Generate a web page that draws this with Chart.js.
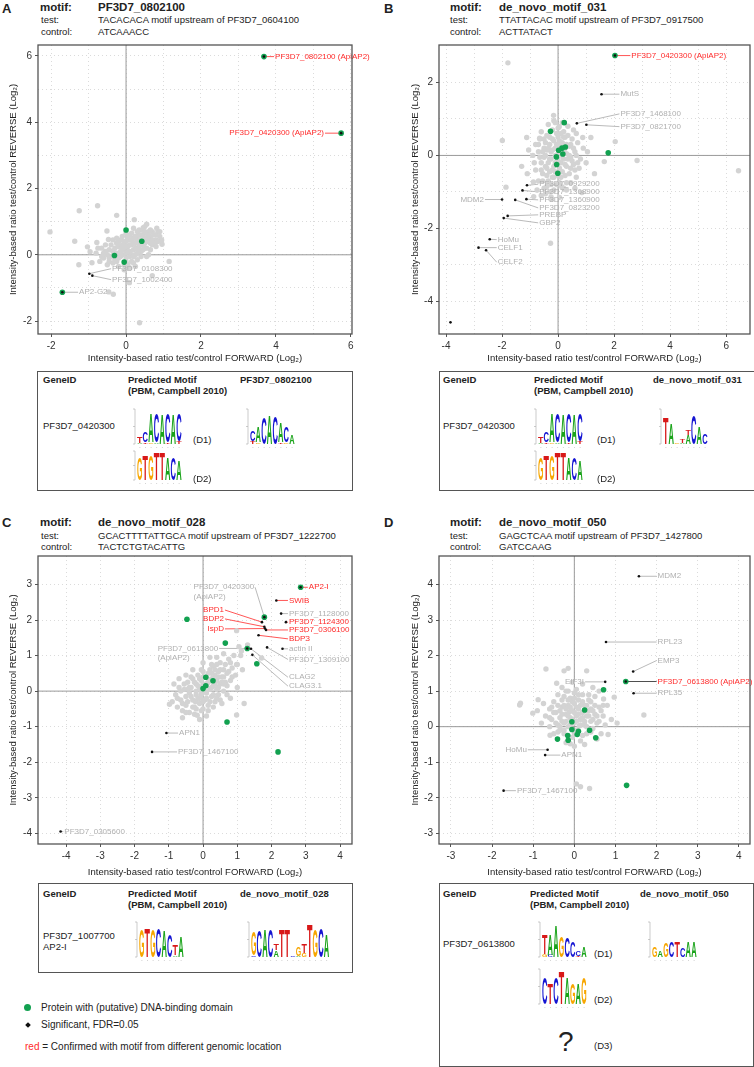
<!DOCTYPE html>
<html>
<head>
<meta charset="utf-8">
<script src="https://cdn.jsdelivr.net/npm/chart.js@4.4.1/dist/chart.umd.min.js"></script>
<style>
body{margin:0;width:754px;height:1067px;position:relative;background:#fff;overflow:hidden;
     font-family:"Liberation Sans",Arial,sans-serif;color:#222}
.t{position:absolute;white-space:nowrap;line-height:1}
.b{font-weight:bold}
.pl{font-size:13px;font-weight:bold}
.mh{font-size:11.5px;font-weight:bold}
.s{font-size:9.5px}
canvas{position:absolute}
.box{position:absolute;border:1.3px solid #555;box-sizing:border-box}
</style>
</head>
<body>

<!-- panel headers -->
<div class="t pl" style="left:2px;top:2px">A</div>
<div class="t mh" style="left:40px;top:2px">motif:</div>
<div class="t mh" style="left:98px;top:2px">PF3D7_0802100</div>
<div class="t s" style="left:41px;top:15.3px">test:</div>
<div class="t s" style="left:98px;top:15.3px">TACACACA motif upstream of PF3D7_0604100</div>
<div class="t s" style="left:41px;top:27px">control:</div>
<div class="t s" style="left:98px;top:27px">ATCAAACC</div>

<div class="t pl" style="left:384px;top:2px">B</div>
<div class="t mh" style="left:450px;top:2px">motif:</div>
<div class="t mh" style="left:499px;top:2px">de_novo_motif_031</div>
<div class="t s" style="left:450px;top:15.3px">test:</div>
<div class="t s" style="left:499px;top:15.3px">TTATTACAC motif upstream of PF3D7_0917500</div>
<div class="t s" style="left:450px;top:27px">control:</div>
<div class="t s" style="left:499px;top:27px">ACTTATACT</div>

<div class="t pl" style="left:2px;top:515.6px">C</div>
<div class="t mh" style="left:40px;top:517.4px">motif:</div>
<div class="t mh" style="left:98px;top:517.4px">de_novo_motif_028</div>
<div class="t s" style="left:41px;top:530.8px">test:</div>
<div class="t s" style="left:98px;top:530.8px">GCACTTTTATTGCA motif upstream of PF3D7_1222700</div>
<div class="t s" style="left:41px;top:541.6px">control:</div>
<div class="t s" style="left:98px;top:541.6px">TACTCTGTACATTG</div>

<div class="t pl" style="left:384px;top:515.6px">D</div>
<div class="t mh" style="left:450px;top:517.4px">motif:</div>
<div class="t mh" style="left:499px;top:517.4px">de_novo_motif_050</div>
<div class="t s" style="left:450px;top:530.8px">test:</div>
<div class="t s" style="left:499px;top:530.8px">GAGCTCAA motif upstream of PF3D7_1427800</div>
<div class="t s" style="left:450px;top:541.6px">control:</div>
<div class="t s" style="left:499px;top:541.6px">GATCCAAG</div>

<canvas id="chartA"></canvas>
<canvas id="chartB"></canvas>
<canvas id="chartC"></canvas>
<canvas id="chartD"></canvas>

<!-- motif tables -->
<div class="box" style="left:37px;top:370.5px;width:316px;height:120px"></div>
<div class="t s b" style="left:43px;top:375.3px">GeneID</div>
<div class="t s b" style="left:128px;top:375.3px">Predicted Motif</div>
<div class="t s b" style="left:128px;top:386.3px">(PBM, Campbell 2010)</div>
<div class="t s b" style="left:240px;top:375.3px">PF3D7_0802100</div>
<div class="t s" style="left:43px;top:421.3px">PF3D7_0420300</div>
<canvas id="logoA1" style="left:131px;top:406px" width="56" height="44"></canvas>
<div class="t s" style="left:193px;top:434.8px">(D1)</div>
<canvas id="logoA3" style="left:244px;top:406px" width="56" height="44"></canvas>
<canvas id="logoA2" style="left:131px;top:448px" width="56" height="38"></canvas>
<div class="t s" style="left:193px;top:474px">(D2)</div>

<div class="box" style="left:439px;top:370.5px;width:316px;height:120px"></div>
<div class="t s b" style="left:443px;top:375.3px">GeneID</div>
<div class="t s b" style="left:534px;top:375.3px">Predicted Motif</div>
<div class="t s b" style="left:534px;top:386.3px">(PBM, Campbell 2010)</div>
<div class="t s b" style="left:653px;top:375.3px">de_novo_motif_031</div>
<div class="t s" style="left:443px;top:421.3px">PF3D7_0420300</div>
<canvas id="logoB1" style="left:532px;top:406px" width="56" height="44"></canvas>
<div class="t s" style="left:597px;top:434.8px">(D1)</div>
<canvas id="logoB3" style="left:657px;top:406px" width="56" height="44"></canvas>
<canvas id="logoB2" style="left:532px;top:448px" width="56" height="38"></canvas>
<div class="t s" style="left:597px;top:474px">(D2)</div>

<div class="box" style="left:37.5px;top:883px;width:315px;height:90px"></div>
<div class="t s b" style="left:43px;top:889.3px">GeneID</div>
<div class="t s b" style="left:128px;top:889.3px">Predicted Motif</div>
<div class="t s b" style="left:128px;top:900.3px">(PBM, Campbell 2010)</div>
<div class="t s b" style="left:240px;top:889.3px">de_novo_motif_028</div>
<div class="t s" style="left:43px;top:930.8px">PF3D7_1007700</div>
<div class="t s" style="left:43px;top:942.3px">AP2-I</div>
<canvas id="logoC1" style="left:133px;top:919px" width="56" height="44"></canvas>
<canvas id="logoC2" style="left:245px;top:919px" width="100" height="44"></canvas>

<div class="box" style="left:439px;top:883px;width:315px;height:184px"></div>
<div class="t s b" style="left:443px;top:889.3px">GeneID</div>
<div class="t s b" style="left:530px;top:889.3px">Predicted Motif</div>
<div class="t s b" style="left:530px;top:900.3px">(PBM, Campbell 2010)</div>
<div class="t s b" style="left:640px;top:889.3px">de_novo_motif_050</div>
<div class="t s" style="left:443px;top:938.8px">PF3D7_0613800</div>
<canvas id="logoD1" style="left:536px;top:919px" width="56" height="44"></canvas>
<div class="t s" style="left:594px;top:949.3px">(D1)</div>
<canvas id="logoD3" style="left:646px;top:919px" width="56" height="44"></canvas>
<canvas id="logoD2" style="left:536px;top:966px" width="56" height="44"></canvas>
<div class="t s" style="left:594px;top:995.3px">(D2)</div>
<div class="t" style="left:558px;top:1028px;font-size:28px">?</div>
<div class="t s" style="left:594px;top:1041.3px">(D3)</div>

<!-- legend -->
<div style="position:absolute;left:24px;top:1004.3px;width:7px;height:7px;border-radius:50%;background:#12a150"></div>
<div class="t" style="left:41px;top:1002.6px;font-size:10px">Protein with (putative) DNA-binding domain</div>
<div style="position:absolute;left:26.3px;top:1023px;width:4px;height:4px;background:#111;transform:rotate(45deg)"></div>
<div class="t" style="left:41px;top:1019.6px;font-size:10px">Significant, FDR=0.05</div>
<div class="t" style="left:25px;top:1041.8px;font-size:10px"><span style="color:#ff2b2b">red</span> = Confirmed with motif from different genomic location</div>

<script>
/* =========================
   DATA  (log2 ratios)
========================= */

// ---- panel A ----
const aGray = [
  [-2.03,0.69],[-1.25,1.33],[-0.76,1.48],[-0.25,1.19],[0.22,1.06],[-1.37,0.41],[-1.03,0.24],
  [-1.26,-0.30],[-0.91,-0.24],[1.15,-0.20],[0.96,0.32],[0.82,0.80],[-0.46,-1.12],[-0.34,-1.19],
  [0.36,-2.05],[0.09,-0.84],[0.70,-0.63],[-0.96,0.09],[-0.78,0.37],[-0.51,0.72],[-0.47,0.46],
  [0.55,0.92],[0.46,0.82],
  [-0.6,-0.1],[-0.5,0.0],[-0.45,0.15],[-0.4,-0.05],[-0.35,0.1],[-0.3,0.2],[-0.3,-0.15],[-0.25,0.05],
  [-0.2,0.25],[-0.2,-0.1],[-0.15,0.1],[-0.1,0.3],[-0.1,0.0],[-0.05,0.15],[0.0,0.4],[0.0,0.05],
  [0.0,-0.1],[0.05,0.25],[0.1,0.1],[0.1,0.45],[0.1,-0.05],[0.15,0.3],[0.2,0.15],[0.2,0.5],
  [0.25,0.0],[0.25,0.35],[0.3,0.2],[0.3,0.55],[0.35,0.4],[0.4,0.1],[0.4,0.6],[0.45,0.3],[0.5,0.5],
  [0.5,0.2],[0.55,0.65],[0.6,0.4],[0.65,0.55],[0.7,0.3],[0.75,0.6],[0.8,0.45],[0.85,0.7],[0.9,0.55],
  [-0.55,0.3],[-0.65,0.2],[-0.7,-0.2],[-0.5,-0.3],[-0.2,-0.35],[0.05,-0.3],[0.15,-0.2],[0.3,-0.15],
  [0.6,0.0],[0.7,0.7],[0.35,0.75],[0.15,0.65],[-0.1,0.55],[-0.35,0.45],[0.2,0.8],[0.5,0.85],
  [-0.8,0.05],[-0.75,0.2],[-0.45,-0.2],[0.0,0.65],[0.45,0.75],[0.65,0.15],[0.8,0.25],[-0.15,0.45],
  [0.25,-0.35],[0.1,-0.4],[-0.05,-0.45],[0.55,-0.05],[0.35,0.15],[-0.25,0.35],[0.6,0.7],[0.05,0.5],
  [-0.55,0.1],[-0.45,-0.1],[-0.4,0.3],[-0.35,-0.25],[-0.3,0.05],[-0.25,-0.2],[-0.2,0.4],[-0.15,-0.05],
  [-0.1,0.2],[-0.05,0.4],[-0.05,-0.3],[0.0,0.25],[0.05,0.1],[0.05,0.55],[0.1,0.3],[0.15,0.0],
  [0.15,0.45],[0.2,0.35],[0.2,-0.05],[0.25,0.2],[0.25,0.55],[0.3,0.4],[0.3,0.05],[0.35,0.6],
  [0.35,0.25],[0.4,0.45],[0.4,-0.05],[0.45,0.15],[0.45,0.6],[0.5,0.35],[0.5,0.7],[0.55,0.5],
  [0.55,0.2],[0.6,0.6],[0.65,0.35],[0.65,0.75],[0.7,0.45],[0.75,0.35],[0.8,0.6],[0.85,0.4],
  [0.9,0.7],[0.95,0.45],[-0.6,0.05],[-0.65,-0.05],[0.1,0.6],[0.3,0.7],[-0.25,0.5],[0.0,-0.2],
  [0.2,-0.25],[0.4,0.35]
];
const aGreen = [[0.00,0.75],[0.42,0.41],[-0.31,-0.02],[-0.05,-0.22],[3.68,5.98],[5.74,3.67],[-1.70,-1.13]];
const aSig = [[3.68,5.98],[5.74,3.67],[-0.98,-0.57],[-0.90,-0.63],[-1.70,-1.13]];
// [index into sig, label, label x, label y, 0 grey | 1 red | 2 red text + dark line, side]
const aLabels = [
  [0,'PF3D7_0802100 (ApiAP2)',3.95,5.98,1,'l'],
  [1,'PF3D7_0420300 (ApiAP2)',5.31,3.67,1,'r'],
  [2,'PF3D7_0108300',-0.40,-0.42,0,'l'],
  [3,'PF3D7_1002400',-0.40,-0.75,0,'l'],
  [4,'AP2-G2',-1.28,-1.13,0,'l']
];
const aXTicks = [-2,-1,0,1,2,3,4,5,6];
const aYTicks = [-2,-1,0,1,2,3,4,5,6];

// ---- panel B ----
const bGray = [
  [-1.79,2.54],[-1.99,0.41],[6.44,-0.42],[2.82,-0.14],[1.65,-0.17],[2.04,0.38],[1.17,0.49],
  [-0.16,1.10],[0.04,0.79],[-1.12,0.49],[-0.66,0.47],[0.65,0.60],[0.88,0.49],[-1.86,-0.87],
  [-0.87,-1.13],[-0.27,-2.41],[0.13,-0.86],[-0.88,-0.73],[0.85,-1.02],[-0.25,-1.14],
  [-0.9,0.0],[-0.8,0.3],[-0.8,-0.4],[-0.7,0.1],[-0.7,-0.7],[-0.65,0.45],[-0.6,-0.2],[-0.55,-0.5],
  [-0.5,0.2],[-0.5,-0.9],[-0.45,0.0],[-0.4,0.55],[-0.4,-0.35],[-0.35,-0.7],[-0.3,0.3],[-0.3,-0.1],
  [-0.3,-1.0],[-0.25,0.1],[-0.2,0.7],[-0.2,-0.4],[-0.2,-0.6],[-0.15,0.4],[-0.1,0.0],[-0.1,-0.2],
  [-0.1,0.9],[-0.05,-0.8],[0.0,0.5],[0.0,0.25],[0.0,-0.1],[0.05,-0.35],[0.1,0.6],[0.1,0.1],
  [0.1,-0.6],[0.15,0.35],[0.2,-0.1],[0.2,-0.9],[0.25,0.5],[0.3,0.05],[0.3,-0.3],[0.35,0.8],
  [0.4,0.25],[0.4,-0.5],[0.45,-0.05],[0.5,0.45],[0.55,-0.25],[0.6,0.1],[0.65,-0.6],[0.7,0.35],
  [0.8,-0.1],[0.9,0.2],[-0.6,0.65],[-0.45,-1.05],[-0.25,-1.2],[0.05,-1.15],[0.3,-0.75],[0.55,0.7],
  [0.75,-0.35],[-0.85,-0.2],[-1.05,0.15],[-1.1,-0.5],[1.0,-0.2],[1.05,0.1],[-0.15,0.95],[0.15,0.9],
  [-0.35,0.85],[0.6,-0.9],[-0.6,-1.1],[-1.3,-0.3],[1.3,-0.5],[-0.5,0.45],[0.25,0.2],[-0.05,0.3],
  [0.45,-0.75],[-0.75,-0.95],[0.2,0.65],[-0.15,-0.95],
  [-0.55,0.1],[-0.5,-0.05],[-0.45,0.35],[-0.45,-0.3],[-0.4,0.15],[-0.4,-0.55],[-0.35,-0.2],[-0.35,0.2],
  [-0.3,0.5],[-0.3,-0.45],[-0.25,-0.1],[-0.25,-0.8],[-0.2,0.15],[-0.2,0.45],[-0.15,-0.3],[-0.15,-0.6],
  [-0.1,0.2],[-0.1,-0.45],[-0.05,0.6],[-0.05,-0.2],[0.0,0.05],[0.0,-0.55],[0.05,0.4],[0.05,-0.75],
  [0.1,-0.2],[0.1,0.3],[0.15,-0.45],[0.15,0.0],[0.2,0.15],[0.2,0.5],[0.25,-0.25],[0.25,-0.55],
  [0.3,0.3],[0.35,-0.1],[0.35,0.55],[0.4,0.0],[0.45,0.3],[0.45,-0.35],[0.5,-0.15],[0.55,0.2],
  [0.6,-0.4],[0.65,0.0],[0.7,-0.2],[-0.65,-0.05],[-0.7,0.3],[-0.6,-0.4],[-0.55,-0.7],[0.0,0.75],
  [-0.4,-0.85],[0.3,-0.95]
];
const bGreen = [[0.22,0.90],[-0.27,0.66],[1.79,0.07],[0.26,0.23],[0.14,0.20],[0.02,0.14],[0.17,0.04],
  [-0.06,-0.04],[-0.05,-0.25],[-0.01,-0.49],[2.03,2.74]];
const bSig = [[2.03,2.74],[1.55,1.68],[0.67,0.88],[1.01,0.84],[-1.11,-0.82],[-1.27,-0.96],[-1.13,-1.20],
  [-1.53,-1.22],[-2.00,-1.21],[-1.80,-1.66],[-1.94,-1.72],[-2.44,-2.30],[-2.84,-2.53],[-2.57,-2.60],[-3.84,-4.58]];
const bLabels = [
  [0,'PF3D7_0420300 (ApiAP2)',2.58,2.74,1,'l'],
  [1,'MutS',2.19,1.68,0,'l'],
  [2,'PF3D7_1468100',2.19,1.14,0,'l'],
  [3,'PF3D7_0821700',2.19,0.79,0,'l'],
  [4,'PF3D7_0929200',-0.71,-0.79,0,'l'],
  [5,'PF3D7_1368900',-0.71,-1.00,0,'l'],
  [6,'PF3D7_1360900',-0.71,-1.22,0,'l'],
  [7,'PF3D7_0823200',-0.71,-1.44,0,'l'],
  [8,'MDM2',-2.61,-1.21,0,'r'],
  [9,'PREBP',-0.71,-1.63,0,'l'],
  [10,'GBP2',-0.71,-1.85,0,'l'],
  [11,'HoMu',-2.19,-2.31,0,'l'],
  [12,'CELF1',-2.19,-2.53,0,'l'],
  [13,'CELF2',-2.19,-2.93,0,'l']
];
const bXTicks = [-4,-3,-2,-1,0,1,2,3,4,5,6];
const bYTicks = [-4,-3,-2,-1,0,1,2];

// ---- panel C ----
const cGray = [
  [-0.9,-0.3],[-0.8,-0.1],[-0.75,-0.45],[-0.7,0.1],[-0.65,-0.25],[-0.6,-0.55],[-0.55,0.05],[-0.5,-0.15],
  [-0.5,-0.4],[-0.45,0.25],[-0.4,-0.05],[-0.4,-0.6],[-0.35,0.1],[-0.3,-0.25],[-0.3,0.35],[-0.25,-0.45],
  [-0.2,0.0],[-0.2,0.2],[-0.15,-0.2],[-0.15,0.45],[-0.1,-0.35],[-0.1,0.1],[-0.05,0.3],[-0.05,-0.1],
  [0.0,-0.5],[0.0,0.55],[0.05,0.15],[0.05,-0.25],[0.1,0.4],[0.1,-0.05],[0.15,0.25],[0.15,-0.4],
  [0.2,0.6],[0.2,0.05],[0.25,-0.15],[0.25,0.35],[0.3,0.15],[0.3,0.7],[0.35,-0.3],[0.35,0.45],
  [0.4,0.05],[0.4,0.3],[0.45,0.55],[0.45,-0.1],[0.5,0.2],[0.5,0.8],[0.55,0.4],[0.6,0.0],[0.6,0.6],
  [0.65,0.25],[0.7,0.5],[0.75,0.9],[0.8,0.3],[0.85,0.65],[0.9,1.0],[0.95,0.45],[1.0,0.75],[1.1,1.0],
  [1.15,0.6],[-0.3,0.6],[-0.5,0.45],[-0.7,0.35],[0.0,0.8],[0.2,0.95],[-0.6,-0.75],[-0.25,-0.65],
  [0.1,-0.7],[0.55,-0.35],[0.8,-0.2],[-0.98,-0.37],[-0.17,-0.68],[0.98,-0.67],[1.2,-0.35],[0.98,1.7],
  [1.12,1.13],[1.71,0.93],[0.98,0.75],[1.3,1.3],[1.05,1.25],[0.6,1.05],[0.4,0.95],[-0.1,-0.8],
  [0.7,-0.1],[1.0,0.1],[-0.85,0.2],[-0.05,0.0],[0.12,0.22],[-0.22,-0.3],[0.3,-0.45],
  [-0.75,-0.2],[-0.65,0.0],[-0.6,-0.35],[-0.55,0.2],[-0.45,-0.3],[-0.4,0.1],[-0.35,-0.15],[-0.35,0.4],
  [-0.3,-0.45],[-0.25,0.25],[-0.2,-0.1],[-0.2,-0.5],[-0.15,0.15],[-0.1,0.35],[-0.1,-0.2],[-0.05,-0.55],
  [0.0,0.2],[0.0,0.4],[0.0,-0.3],[0.05,0.0],[0.1,0.15],[0.1,-0.2],[0.15,0.5],[0.15,-0.55],[0.2,0.3],
  [0.2,-0.3],[0.25,0.1],[0.25,0.5],[0.3,-0.1],[0.3,0.35],[0.35,0.6],[0.35,0.2],[0.4,-0.2],[0.45,0.4],
  [0.45,0.1],[0.5,0.6],[0.5,-0.25],[0.55,0.25],[0.6,0.4],[0.65,0.75],[0.7,0.15],[0.75,0.55],[0.8,0.8],
  [0.85,0.4],[-0.05,0.6],[0.25,0.75],[-0.45,0.05],[0.4,0.75],[0.6,0.2],[-0.5,-0.6]
];
const cGreen = [[-0.47,2.02],[0.65,1.35],[1.57,0.77],[0.08,0.39],[0.29,0.29],[0.08,0.15],[0.00,0.07],
  [0.70,-0.87],[2.19,-1.71],[2.85,2.92],[1.79,2.08],[1.29,1.20]];
const cSig = [[2.85,2.92],[2.14,2.55],[2.28,2.18],[2.42,1.94],[1.84,1.72],[1.62,1.57],[1.72,1.94],
  [1.79,1.81],[1.81,1.76],[1.79,2.08],[1.29,1.20],[2.32,1.19],[1.87,1.23],[1.40,1.19],[1.44,1.02],
  [-1.07,-1.18],[-1.49,-1.71],[-4.16,-3.95]];
const cLabels = [
  [0,'AP2-I',3.06,2.92,1,'l'],
  [1,'SWIB',2.48,2.55,1,'l'],
  [2,'PF3D7_1128000',2.48,2.18,0,'l'],
  [3,'PF3D7_1124300',2.48,1.94,1,'l'],
  [4,'PF3D7_0306100',2.48,1.72,1,'l'],
  [5,'BDP3',2.48,1.47,1,'l'],
  [6,'BPD1',0.64,2.28,1,'r'],
  [7,'BDP2',0.64,2.03,1,'r'],
  [8,'IspD',0.64,1.75,1,'r'],
  [9,'PF3D7_0420300\n(ApiAP2)',1.52,2.92,0,'r'],
  [10,'PF3D7_0613800\n(ApiAP2)',0.47,1.20,0,'r'],
  [11,'actin II',2.48,1.19,0,'l'],
  [12,'PF3D7_1309100',2.48,0.89,0,'l'],
  [13,'CLAG2',2.48,0.39,0,'l'],
  [14,'CLAG3.1',2.48,0.14,0,'l'],
  [15,'APN1',-0.73,-1.18,0,'l'],
  [16,'PF3D7_1467100',-0.76,-1.71,0,'l'],
  [17,'PF3D7_0305600',-4.08,-3.95,0,'l']
];
const cXTicks = [-4,-3,-2,-1,0,1,2,3,4];
const cYTicks = [-4,-3,-2,-1,0,1,2,3];

// ---- panel D ----
const dGray = [
  [-0.7,0.3],[-0.6,0.5],[-0.6,0.0],[-0.55,0.2],[-0.5,-0.2],[-0.5,0.7],[-0.45,0.4],[-0.4,0.05],
  [-0.4,0.9],[-0.35,0.25],[-0.35,-0.1],[-0.3,0.55],[-0.3,0.75],[-0.25,0.1],[-0.25,-0.2],[-0.2,0.35],
  [-0.2,1.0],[-0.15,0.6],[-0.15,0.0],[-0.1,0.25],[-0.1,0.8],[-0.05,-0.3],[-0.05,0.45],[0.0,0.1],
  [0.0,0.65],[0.0,0.95],[0.05,0.3],[0.05,-0.1],[0.1,0.5],[0.1,0.75],[0.15,0.2],[0.15,-0.4],[0.2,0.4],
  [0.2,0.9],[0.25,0.05],[0.25,0.6],[0.3,0.3],[0.3,-0.2],[0.35,0.75],[0.4,0.15],[0.4,0.5],[0.45,-0.05],
  [0.5,0.35],[0.5,0.85],[0.55,0.1],[0.6,0.55],[0.65,-0.2],[0.7,0.3],[0.8,0.6],[-0.69,1.62],
  [-0.15,1.64],[-0.25,1.57],[0.3,1.57],[-0.43,1.22],[0.97,0.83],[-1.31,0.66],[-0.88,0.76],
  [-0.75,0.65],[0.71,0.78],[-1.33,0.61],[-1.01,0.38],[1.69,0.33],[0.82,-0.22],[1.04,0.1],
  [0.05,-1.61],[0.15,-1.69],[0.37,-1.74],[-0.59,-0.24],[-0.1,-0.48],[0.0,-0.55],[0.2,1.2],
  [-0.05,1.25],[0.45,1.1],[-0.3,1.1],[0.6,1.0],[-0.8,0.1],[-0.9,0.45],[0.9,0.2],[0.25,-0.5],
  [-0.2,-0.45],[0.55,-0.35],[0.12,0.02],[-0.12,0.42],[0.35,0.45],[0.75,0.05],
  [-0.5,0.4],[-0.45,0.1],[-0.4,0.6],[-0.4,-0.15],[-0.35,0.45],[-0.3,0.15],[-0.3,0.35],[-0.25,0.6],
  [-0.25,0.85],[-0.2,0.15],[-0.2,0.5],[-0.15,0.3],[-0.15,0.75],[-0.1,0.05],[-0.1,0.55],[-0.05,0.2],
  [-0.05,0.7],[0.0,0.4],[0.0,0.8],[0.05,0.55],[0.05,0.15],[0.1,0.35],[0.1,0.9],[0.15,0.6],[0.15,0.05],
  [0.2,0.25],[0.2,0.7],[0.25,0.45],[0.25,0.15],[0.3,0.6],[0.3,0.0],[0.35,0.3],[0.4,0.7],[0.45,0.45],
  [0.45,0.2],[0.5,0.6],[0.55,0.3],[0.6,0.15],[0.65,0.45],[-0.6,0.25],[-0.55,0.55],[0.05,1.05],
  [-0.15,1.0],[0.35,0.9],[-0.35,0.0],[0.2,-0.25],[-0.25,-0.1],[0.4,-0.15],[0.0,-0.2],[0.7,0.6]
];
const dGreen = [[0.71,1.04],[0.25,0.47],[-0.06,0.14],[-0.06,-0.08],[0.10,-0.13],[0.07,-0.22],[0.37,-0.10],
  [-0.16,-0.25],[-0.41,-0.35],[-0.15,-0.38],[0.52,-0.31],[1.27,-1.65],[1.25,1.27]];
const dSig = [[1.57,4.23],[0.77,2.38],[1.43,1.55],[1.25,1.27],[0.75,1.26],[1.44,0.94],[-0.65,-0.65],
  [-0.71,-0.80],[-1.72,-1.80]];
const dLabels = [
  [0,'MDM2',2.00,4.23,0,'l'],
  [1,'RPL23',2.00,2.38,0,'l'],
  [2,'EMP3',2.00,1.86,0,'l'],
  [3,'PF3D7_0613800 (ApiAP2)',2.00,1.27,2,'l'],
  [4,'EIF3I',0.26,1.26,0,'r'],
  [5,'RPL35',2.00,0.94,0,'l'],
  [6,'HoMu',-1.13,-0.65,0,'r'],
  [7,'APN1',-0.34,-0.80,0,'l'],
  [8,'PF3D7_1467100',-1.42,-1.80,0,'l']
];
const dXTicks = [-3,-2,-1,0,1,2,3,4];
const dYTicks = [-3,-2,-1,0,1,2,3,4];

// ---- sequence logos: [letter, height] stacked from the bottom ----
const logoPbmD1 = [[['A',0.04],['T',0.2]],[['T',0.05],['C',0.3]],[['G',0.05],['A',0.85]],[['A',0.05],['C',0.85]],
  [['A',0.88]],[['T',0.05],['C',0.85]],[['A',0.88]],[['T',0.08],['C',0.8]]];
const logoPbmD2 = [[['G',0.8]],[['T',0.85]],[['G',0.85]],[['T',0.95]],[['T',0.95]],[['A',0.8]],[['C',0.8]],[['A',0.7]]];
const logoMotifA = [[['T',0.08],['C',0.3]],[['G',0.05],['A',0.45]],[['C',0.75]],[['A',0.85]],[['C',0.8]],
  [['T',0.05],['A',0.55]],[['G',0.05],['C',0.45]],[['A',0.25]]];
const logoMotifB = [[['T',0.75]],[['A',0.6]],[['G',0.05]],[['A',0.04],['T',0.12]],[['A',0.25],['T',0.15]],
  [['C',0.85]],[['A',0.5]],[['C',0.3]]];
const logoPbmC = [[['G',0.8]],[['T',0.85]],[['G',0.8]],[['C',0.85]],[['A',0.75]],[['C',0.65]],[['A',0.05],['T',0.3]],[['A',0.6]]];
const logoMotifC = [[['C',0.05],['G',0.7]],[['C',0.75]],[['A',0.8]],[['C',0.8]],[['A',0.2],['T',0.2]],[['T',0.8]],
  [['T',0.8]],[['C',0.02]],[['A',0.04],['G',0.25]],[['G',0.12],['T',0.25]],[['T',0.95]],[['G',0.8]],[['C',0.85]],[['A',0.65]]];
const logoPbmD1d = [[['G',0.08],['T',0.55]],[['C',0.06],['A',0.6]],[['A',0.9]],[['G',0.6]],[['C',0.55]],[['C',0.45]],
  [['T',0.04],['C',0.15]],[['A',0.3]]];
const logoPbmD2d = [[['C',0.75]],[['T',0.6]],[['C',0.75]],[['T',0.95]],[['A',0.75]],[['G',0.6]],[['A',0.6]],[['G',0.75]]];
const logoMotifD = [[['G',0.3]],[['A',0.2]],[['G',0.4]],[['C',0.45]],[['T',0.45]],[['C',0.25]],[['A',0.45]],[['A',0.45]]];


/* =========================
   PLUGINS
========================= */

const FONT = '"Liberation Sans", Arial, sans-serif';

const framePlugin = {
    id: 'frame',
    beforeDatasetsDraw(chart) {
        const { ctx, chartArea: { left, right, top, bottom }, scales: { x, y } } = chart;
        ctx.save();
        // zero lines
        ctx.strokeStyle = '#9a9a9a';
        ctx.lineWidth = 1;
        const x0 = x.getPixelForValue(0), y0 = y.getPixelForValue(0);
        ctx.beginPath();
        ctx.moveTo(x0, top); ctx.lineTo(x0, bottom);
        ctx.moveTo(left, y0); ctx.lineTo(right, y0);
        ctx.stroke();
        ctx.restore();
    },
    afterDraw(chart) {
        const { ctx, chartArea: { left, right, top, bottom } } = chart;
        ctx.save();
        ctx.strokeStyle = '#555';
        ctx.lineWidth = 1.3;
        ctx.strokeRect(left, top, right - left, bottom - top);
        ctx.restore();
    }
};

function labelPlugin(sig, labels) {
    const lineCol = k => k === 1 ? '#ff2b2b' : (k === 2 ? '#222' : '#a8a8a8');
    const textCol = k => k === 0 ? '#b0b0b0' : '#ff2b2b';
    return {
        id: 'geneLabels',
        beforeDatasetsDraw(chart) {
            const { ctx, scales: { x, y } } = chart;
            ctx.save();
            ctx.lineWidth = 0.8;
            labels.forEach(l => {
                const p = sig[l[0]];
                ctx.strokeStyle = lineCol(l[4]);
                ctx.beginPath();
                ctx.moveTo(x.getPixelForValue(p[0]), y.getPixelForValue(p[1]));
                ctx.lineTo(x.getPixelForValue(l[2]), y.getPixelForValue(l[3]));
                ctx.stroke();
            });
            ctx.restore();
        },
        afterDatasetsDraw(chart) {
            const { ctx, scales: { x, y } } = chart;
            ctx.save();
            ctx.font = '8px ' + FONT;
            ctx.textBaseline = 'middle';
            ctx.textAlign = 'left';
            labels.forEach(l => {
                const lines = l[1].split('\n');
                const lx = x.getPixelForValue(l[2]), ly = y.getPixelForValue(l[3]);
                const sx = l[5] === 'r' ? lx - 1 - ctx.measureText(lines[0]).width : lx + 1;
                ctx.fillStyle = textCol(l[4]);
                lines.forEach((s, i) => ctx.fillText(s, sx, ly + i * 9.5));
            });
            ctx.restore();
        }
    };
}


/* =========================
   CHART SETUP
========================= */

const toPts = arr => arr.map(p => ({ x: p[0], y: p[1] }));

function makePanel(id, box, xr, yr, xTicks, yTicks, evenOnly, gray, green, sig, labels) {

    const cv = document.getElementById(id);
    cv.width = box.w;
    cv.height = box.h;
    cv.style.left = box.left + 'px';
    cv.style.top = box.top + 'px';

    const hideOdd = v => evenOnly && v % 2 !== 0;

    const axis = (min, max, ticks, title, isX) => ({
        type: 'linear',
        position: isX ? 'bottom' : 'left',
        min: min,
        max: max,
        afterBuildTicks: s => { s.ticks = ticks.map(v => ({ value: v })); },
        afterFit: s => {
            if (isX) s.height = box.xh; else s.width = box.yw;
        },
        grid: {
            color: '#d2d2d2',
            lineWidth: 0.8,
            drawTicks: true,
            tickLength: 3,
            tickWidth: 1,
            tickColor: c => hideOdd(c.tick.value) ? 'rgba(0,0,0,0)' : '#555'
        },
        border: { display: false, dash: [1, 3] },
        ticks: {
            autoSkip: false,
            maxRotation: 0,
            padding: 3,
            color: '#333',
            font: { size: 10, family: FONT },
            callback: v => hideOdd(v) ? '' : String(v)
        },
        title: {
            display: true,
            text: title,
            color: '#222',
            font: { size: 9.5, family: FONT },
            padding: isX ? { top: 0, bottom: 2.3 } : { top: box.ytp, bottom: 0 }
        }
    });

    // lower "order" is drawn on top: black dots over green over grey
    return new Chart(cv, {
        type: 'scatter',
        data: {
            datasets: [
                { data: toPts(gray), order: 3, pointRadius: 2.7, backgroundColor: '#d3d3d3', borderWidth: 0 },
                { data: toPts(green), order: 2, pointRadius: 2.8, backgroundColor: '#12a150', borderWidth: 0 },
                { data: toPts(sig), order: 1, pointRadius: 1.3, backgroundColor: '#111', borderWidth: 0 }
            ]
        },
        options: {
            responsive: false,
            animation: false,
            events: [],
            layout: { padding: { top: box.pt, right: box.pr, left: 0, bottom: 0 } },
            plugins: { legend: { display: false }, tooltip: { enabled: false } },
            scales: {
                x: axis(xr[0], xr[1], xTicks, 'Intensity-based ratio test/control FORWARD (Log\u2082)', true),
                y: axis(yr[0], yr[1], yTicks, 'Intensity-based ratio test/control REVERSE (Log\u2082)', false)
            }
        },
        plugins: [framePlugin, labelPlugin(sig, labels)]
    });
}

makePanel('chartA', { left: 0, top: 36, w: 377, h: 330, pt: 6, pr: 25, yw: 38, xh: 32, ytp: 7.3 },
    [-2.35, 6.03], [-2.39, 6.33], aXTicks, aYTicks, true, aGray, aGreen, aSig, aLabels);

makePanel('chartB', { left: 377, top: 36, w: 377, h: 330, pt: 6, pr: 1, yw: 62, xh: 32, ytp: 32.3 },
    [-4.25, 6.85], [-4.9, 3.03], bXTicks, bYTicks, true, bGray, bGreen, bSig, bLabels);

makePanel('chartC', { left: 0, top: 547, w: 377, h: 333, pt: 6, pr: 25, yw: 38, xh: 36, ytp: 7.3 },
    [-4.82, 4.35], [-4.3, 3.8], cXTicks, cYTicks, false, cGray, cGreen, cSig, cLabels);

makePanel('chartD', { left: 377, top: 547, w: 377, h: 333, pt: 6, pr: 1, yw: 62, xh: 36, ytp: 32.3 },
    [-3.29, 4.27], [-3.3, 4.8], dXTicks, dYTicks, false, dGray, dGreen, dSig, dLabels);


/* =========================
   LOGOS
========================= */

const LOGO_COL = { A: '#19a319', C: '#1414d2', G: '#f7a600', T: '#d81818' };

function drawLogo(id, cols) {
    const cv = document.getElementById(id);
    const c = cv.getContext('2d');
    const W = cv.width, H = cv.height;
    const ax = 4, top = 3, base = H - 6;
    const full = base - top;

    c.strokeStyle = '#aaa';
    c.lineWidth = 0.6;
    c.beginPath();
    c.moveTo(ax, top); c.lineTo(ax, base);
    [top, (top + base) / 2, base].forEach(t => { c.moveTo(ax - 2, t); c.lineTo(ax, t); });
    c.stroke();

    c.font = 'bold 100px ' + FONT;
    const cw = 5.6;
    cols.forEach((col, i) => {
        const cx = ax + 2 + i * cw;
        let yb = base;
        col.forEach(([ch, h]) => {
            const hh = h * full;
            const m = c.measureText(ch).width;
            c.save();
            c.translate(cx, yb);
            c.scale((cw - 0.2) / m, hh / 72);
            c.fillStyle = LOGO_COL[ch];
            c.fillText(ch, 0, 0);
            c.restore();
            yb -= hh;
        });
        c.fillStyle = '#bbb';
        c.fillRect(cx + 2.5, base + 3, 0.8, 0.8);
    });
}

drawLogo('logoA1', logoPbmD1);
drawLogo('logoA2', logoPbmD2);
drawLogo('logoA3', logoMotifA);
drawLogo('logoB1', logoPbmD1);
drawLogo('logoB2', logoPbmD2);
drawLogo('logoB3', logoMotifB);
drawLogo('logoC1', logoPbmC);
drawLogo('logoC2', logoMotifC);
drawLogo('logoD1', logoPbmD1d);
drawLogo('logoD2', logoPbmD2d);
drawLogo('logoD3', logoMotifD);
</script>
</body>
</html>
